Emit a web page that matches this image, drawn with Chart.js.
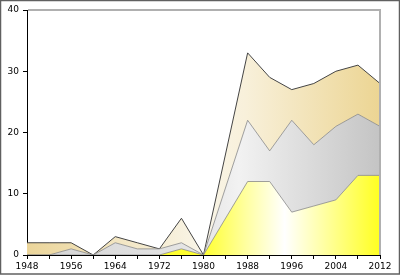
<!DOCTYPE html>
<html>
<head>
<meta charset="utf-8">
<script src="https://cdn.jsdelivr.net/npm/chart.js@4/dist/chart.umd.min.js"></script>
<style>
html,body{margin:0;padding:0;background:#fff;}
canvas{display:block;}
</style>
</head>
<body>
<canvas id="c" width="400" height="276"></canvas>
<script>
const years  = [1948,1952,1956,1960,1964,1968,1972,1976,1980,1988,1992,1996,2000,2004,2008,2012];
const gold   = [0,0,0,0,0,0,0,1,0,12,12,7,8,9,13,13];
const silver = [0,0,1,0,2,1,1,1,0,10,5,15,10,12,10,8];
const bronze = [2,2,1,0,1,1,0,4,0,11,12,5,10,9,8,7];
const yTicks = [0,10,20,30,40];

function pts(arr){ return years.map((y,i)=>({x:y,y:arr[i]})); }

function grad(stops, fallback){
  return function(ctx){
    const a = ctx.chart.chartArea;
    if(!a) return fallback;
    const g = ctx.chart.ctx.createLinearGradient(a.left,0,a.right,0);
    stops.forEach(s=>g.addColorStop(s[0],s[1]));
    return g;
  };
}

const frame = {
  id:'frame',
  afterDraw(chart){
    const c = chart.ctx, a = chart.chartArea;
    c.save();
    c.strokeStyle = '#b0b0b0';
    c.lineWidth = 2;
    c.beginPath();
    c.moveTo(a.left+1, a.top);
    c.lineTo(a.right, a.top);
    c.lineTo(a.right, a.bottom);
    c.stroke();
    c.strokeStyle = '#606060';
    c.lineWidth = 1.5;
    c.strokeRect(0.5,0.5,399,273.5);
    c.restore();
  }
};

new Chart(document.getElementById('c'), {
  type:'line',
  data:{
    datasets:[
      {label:'Gold', data:pts(gold), fill:'origin', borderColor:'#888', borderWidth:0.8,
       backgroundColor:grad([[0,'#ffff30'],[0.5,'#ffff30'],[0.62,'#ffffa0'],[0.73,'#ffffff'],[1,'#ffff20']],'#ffff40')},
      {label:'Silver', data:pts(silver), fill:'-1', borderColor:'#888', borderWidth:0.8,
       backgroundColor:grad([[0,'#d4d4d4'],[0.5,'#e6e6e6'],[0.6,'#f2f2f2'],[1,'#c4c4c4']],'#d8d8d8')},
      {label:'Bronze', data:pts(bronze), fill:'-1', borderColor:'#444', borderWidth:1,
       backgroundColor:grad([[0,'#ebd59a'],[0.5,'#f9f5e8'],[0.62,'#f8f0da'],[1,'#ecd593']],'#f0e0b0')}
    ]
  },
  options:{
    responsive:false,
    animation:false,
    devicePixelRatio:1,
    layout:{padding:{left:0,right:20,top:10,bottom:0}},
    elements:{point:{radius:0},line:{tension:0}},
    plugins:{legend:{display:false},tooltip:{enabled:false}},
    scales:{
      x:{
        type:'linear', min:1948, max:2012,
        afterFit(s){ s.height = 21; },
        border:{display:true,color:'#000',width:1},
        grid:{display:true,drawOnChartArea:false,drawTicks:true,tickLength:4,color:'#000'},
        ticks:{stepSize:4,autoSkip:false,maxRotation:0,padding:2,color:'#000',
          font:{family:'DejaVu Sans',size:9},
          callback:(v)=> (v%8===4 ? String(v) : '')}
      },
      y:{
        stacked:true, min:0, max:40,
        afterFit(s){ s.width = 27; },
        afterBuildTicks(s){ s.ticks = yTicks.map(v=>({value:v})); },
        border:{display:true,color:'#000',width:1},
        grid:{display:true,drawOnChartArea:false,drawTicks:true,tickLength:4,color:'#000'},
        ticks:{padding:4,color:'#000',font:{family:'DejaVu Sans',size:9}}
      }
    }
  },
  plugins:[frame]
});
</script>
</body>
</html>
